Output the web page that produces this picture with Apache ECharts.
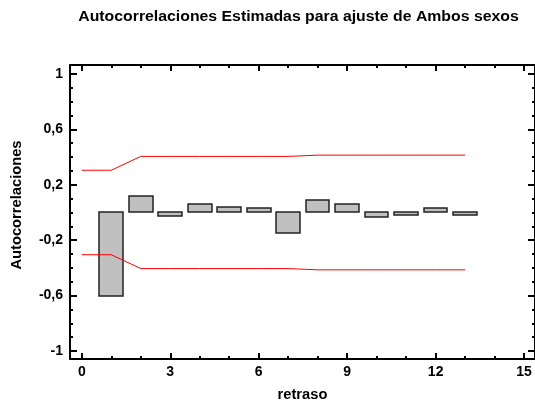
<!DOCTYPE html>
<html>
<head>
<meta charset="utf-8">
<script src="https://cdn.jsdelivr.net/npm/echarts@6/dist/echarts.min.js"></script>
<style>html,body{margin:0;padding:0;background:#fff;}#c{width:535px;height:405px;}</style>
</head>
<body>
<div id="c"></div>
<script>
// ---- data ----
const lags = [1, 2, 3, 4, 5, 6, 7, 8, 9, 10, 11, 12, 13];
const acf = [-0.605, 0.12, -0.025, 0.058, 0.04, 0.031, -0.15, 0.091, 0.058, -0.034, -0.017, 0.031, -0.017];
const limitLags = [0, 1, 2, 3, 4, 5, 6, 7, 8, 9, 10, 11, 12, 13];
const upperLimit = [0.305, 0.305, 0.405, 0.405, 0.405, 0.405, 0.405, 0.405, 0.414, 0.414, 0.414, 0.414, 0.414, 0.414];
const lowerLimit = [-0.305, -0.305, -0.405, -0.405, -0.405, -0.405, -0.405, -0.405, -0.414, -0.414, -0.414, -0.414, -0.414, -0.414];
const xTicks = [0, 3, 6, 9, 12, 15];
const xMinorTicks = [0, 1, 2, 3, 4, 5, 6, 7, 8, 9, 10, 11, 12, 13, 14, 15];
const yTicks = [-1, -0.6, -0.2, 0.2, 0.6, 1];
const yMinorTicks = [-1, -0.9, -0.8, -0.7, -0.6, -0.5, -0.4, -0.3, -0.2, -0.1, 0, 0.1, 0.2, 0.3, 0.4, 0.5, 0.6, 0.7, 0.8, 0.9, 1];
const titleText = 'Autocorrelaciones Estimadas para ajuste de Ambos sexos';
const xTitle = 'retraso';
const yTitle = 'Autocorrelaciones';

const FONT = '"Liberation Sans", Arial, sans-serif';
const XMIN = -0.4, XMAX = 15.37, YMIN = -1.058, YMAX = 1.065;

function xAx(pos, ticks, len, showLine, showLabel) {
  return {
    type: 'value', position: pos, min: XMIN, max: XMAX,
    axisLine: { show: showLine, onZero: false, lineStyle: { color: '#000', width: 2 } },
    axisTick: { show: true, inside: true, length: len, customValues: ticks, lineStyle: { color: '#000', width: 2 } },
    axisLabel: showLabel ? { show: true, customValues: ticks, margin: 6, color: '#000', fontSize: 14, fontWeight: 'bold', fontFamily: FONT } : { show: false },
    splitLine: { show: false }
  };
}
function yAx(pos, ticks, len, showLine, showLabel) {
  return {
    type: 'value', position: pos, min: YMIN, max: YMAX,
    axisLine: { show: showLine, onZero: false, lineStyle: { color: '#000', width: 2 } },
    axisTick: { show: true, inside: true, length: len, customValues: ticks, lineStyle: { color: '#000', width: 2 } },
    axisLabel: showLabel ? { show: true, customValues: ticks, margin: 7, color: '#000', fontSize: 14, fontWeight: 'bold', fontFamily: FONT,
      formatter: v => String(Math.round(v * 10) / 10).replace('.', ',') } : { show: false },
    splitLine: { show: false }
  };
}

const chart = echarts.init(document.getElementById('c'), null, { renderer: 'canvas' });
chart.setOption({
  animation: false,
  backgroundColor: '#fff',
  grid: { left: 70, top: 65, width: 466, height: 294, containLabel: false },
  xAxis: [
    xAx('bottom', xTicks, 6, true, true),
    xAx('bottom', xMinorTicks, 3, false, false),
    xAx('top', xTicks, 6, true, false),
    xAx('top', xMinorTicks, 3, false, false)
  ],
  yAxis: [
    yAx('left', yTicks, 7, true, true),
    yAx('left', yMinorTicks, 3, false, false),
    yAx('right', yTicks, 7, true, false),
    yAx('right', yMinorTicks, 3, false, false)
  ],
  graphic: [
    { type: 'text', x: 298.5, y: 17, scaleX: 1.13, style: { text: titleText, align: 'center', verticalAlign: 'middle', fill: '#000', font: 'bold 14px ' + FONT } },
    { type: 'text', x: 302.5, y: 395, scaleX: 1.05, style: { text: xTitle, align: 'center', verticalAlign: 'middle', fill: '#000', font: 'bold 14px ' + FONT } },
    { type: 'text', x: 17, y: 205, rotation: Math.PI / 2, scaleX: 1.05, style: { text: yTitle, align: 'center', verticalAlign: 'middle', fill: '#000', font: 'bold 14px ' + FONT } }
  ],
  series: [
    {
      type: 'custom', xAxisIndex: 0, yAxisIndex: 0,
      data: lags.map((k, i) => [k, acf[i]]),
      renderItem: function (params, api) {
        const k = api.value(0), v = api.value(1);
        const a = api.coord([k - 0.4, v]);
        const b = api.coord([k + 0.4, 0]);
        const x0 = Math.round(Math.min(a[0], b[0]));
        const x1 = Math.round(Math.max(a[0], b[0]));
        const y0 = Math.round(Math.min(a[1], b[1]));
        const y1 = Math.round(Math.max(a[1], b[1]));
        return { type: 'rect', shape: { x: x0, y: y0, width: x1 - x0, height: y1 - y0 },
          style: { fill: '#c0c0c0', stroke: '#222', lineWidth: 1.5 } };
      }
    },
    {
      type: 'line', xAxisIndex: 0, yAxisIndex: 0, symbol: 'none',
      data: limitLags.map((k, i) => [k, upperLimit[i]]),
      lineStyle: { color: '#ff0000', width: 1 }
    },
    {
      type: 'line', xAxisIndex: 0, yAxisIndex: 0, symbol: 'none',
      data: limitLags.map((k, i) => [k, lowerLimit[i]]),
      lineStyle: { color: '#ff0000', width: 1 }
    }
  ]
});
</script>
</body>
</html>
